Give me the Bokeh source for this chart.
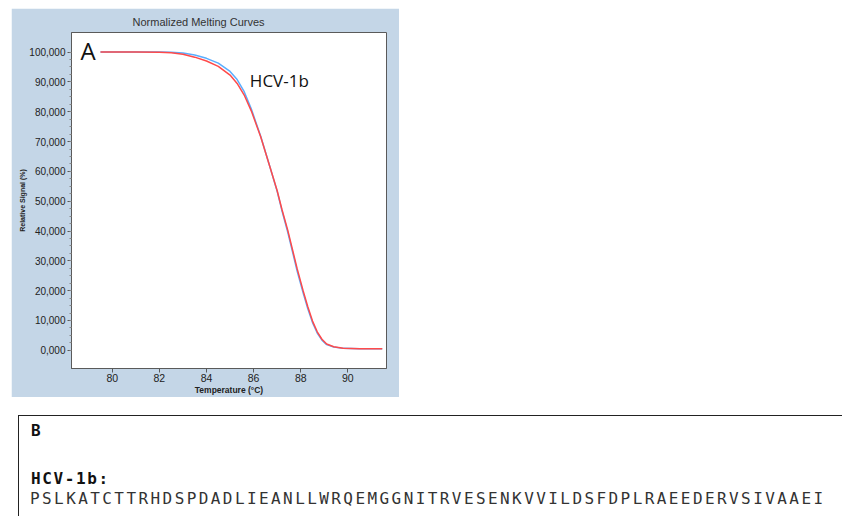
from bokeh.plotting import figure
from bokeh.models import Range1d, Label, Div, Spacer, FixedTicker
from bokeh.layouts import column, row
from bokeh.embed import file_html
from bokeh.resources import INLINE

# ---- data ----
temps = [79.5, 81.0, 82.0, 82.5, 83.0, 83.5, 84.0, 84.5, 85.0, 85.3, 85.6, 85.9,
         86.3, 86.7, 87.0, 87.2, 87.45, 87.85, 88.1, 88.3, 88.5, 88.7, 88.9,
         89.1, 89.4, 89.8, 90.5, 91.46]
red_signal = [100000, 100000, 99950, 99750, 99300, 98300, 97000, 95200, 92300,
              89500, 85600, 80300, 71600, 61300, 53500, 47300, 40200, 27300,
              20000, 14600, 9800, 6200, 3700, 2100, 1200, 700, 550, 500]
blue_signal = [100000, 100000, 100000, 99950, 99700, 99000, 97900, 96300, 93500,
               90800, 86700, 81000, 71800, 61300, 53300, 46900, 39600, 26500,
               19300, 13900, 9300, 5800, 3400, 1900, 1100, 650, 550, 500]

x_ticks = [80, 82, 84, 86, 88, 90]
y_ticks = [0, 10000, 20000, 30000, 40000, 50000, 60000, 70000, 80000, 90000, 100000]
y_tick_labels = ["0,000", "10,000", "20,000", "30,000", "40,000", "50,000",
                 "60,000", "70,000", "80,000", "90,000", "100,000"]

title_text = "Normalized Melting Curves"
panel_label = "A"
curve_label = "HCV-1b"
box_label = "B"
seq_name = "HCV-1b:"
sequence = "PSLKATCTTRHDSPDADLIEANLLWRQEMGGNITRVESENKVVILDSFDPLRAEEDERVSIVAAEI"

PANEL = "#c4d6e7"
AXC = "#5a5a5a"

p = figure(width=388, height=389, output_backend="svg", toolbar_location=None,
           x_range=Range1d(78.27, 91.64), y_range=Range1d(-6100, 106567),
           min_border_left=60, min_border_right=13, min_border_top=24,
           min_border_bottom=27)
p.border_fill_color = PANEL
p.background_fill_color = "white"
p.outline_line_color = AXC
p.outline_line_width = 1
p.grid.visible = False

p.title.text = title_text
p.title.align = "left"
p.title.offset = 61
p.title.standoff = 10
p.title.text_font = "Liberation Sans"
p.title.text_font_size = "11px"
p.title.text_font_style = "normal"
p.title.text_color = "#333333"

p.xaxis.ticker = FixedTicker(ticks=x_ticks)
p.yaxis.ticker = FixedTicker(ticks=y_ticks, minor_ticks=list(range(0, 100001, 2500)))
p.yaxis.major_label_overrides = {t: s for t, s in zip(y_ticks, y_tick_labels)}

for ax in (p.xaxis[0], p.yaxis[0]):
    ax.axis_line_color = AXC
    ax.major_tick_line_color = AXC
    ax.minor_tick_line_color = "#8a8a8a"
    ax.major_tick_in = 0
    ax.major_tick_out = 4
    ax.minor_tick_in = 0
    ax.minor_tick_out = 2
    ax.major_label_text_font = "Liberation Sans"
    ax.major_label_text_color = "#222222"
    ax.axis_label_text_font = "Liberation Sans"
    ax.axis_label_text_font_style = "bold"
    ax.axis_label_text_color = "#222222"

p.xaxis.minor_tick_line_color = None
p.xaxis.major_label_text_font_size = "10.5px"
p.yaxis.major_label_text_font_size = "10px"
p.xaxis.axis_label = "Temperature (°C)"
p.yaxis.axis_label = "Relative Signal (%)"
p.xaxis.axis_label_text_font_size = "8.5px"
p.yaxis.axis_label_text_font_size = "7px"
p.xaxis.major_label_standoff = 1
p.xaxis.axis_label_standoff = 0
p.yaxis.major_label_standoff = 2
p.yaxis.axis_label_standoff = 0

p.line(temps, blue_signal, line_color="#5aaeff", line_width=1.5)
p.line(temps, red_signal, line_color="#ff4a4a", line_width=1.5)

p.add_layout(Label(x=78.65, y=100600, text=panel_label, text_font="Open Sans",
                   text_font_size="24px", text_color="#111111",
                   text_baseline="alphabetic"))
p.add_layout(Label(x=85.84, y=90450, text=curve_label, text_font="Open Sans",
                   text_font_size="17px", text_color="#111111",
                   text_baseline="alphabetic"))

mono = ("font-family:'DejaVu Sans Mono',monospace;font-size:16px;"
        "line-height:16px;white-space:pre;")
html = (
    '<div style="position:relative;width:842px;height:119px;overflow:hidden;">'
    '<div style="position:absolute;left:13px;top:13px;width:840px;height:110px;'
    'border-left:1px solid #222;border-top:1px solid #222;"></div>'
    f'<div style="position:absolute;left:26px;top:21px;{mono}font-weight:bold;color:#111;">{box_label}</div>'
    f'<div style="position:absolute;left:26px;top:69px;{mono}font-weight:bold;letter-spacing:1.6px;color:#111;">{seq_name}</div>'
    f'<div style="position:absolute;left:25px;top:89px;{mono}letter-spacing:2.42px;color:#333;">{sequence}</div>'
    '</div>'
)
box = Div(text=html, width=842, height=119)

layout = column(Spacer(width=10, height=8),
                row(Spacer(width=11, height=389), p),
                box, spacing=0)

open("out.html", "w").write(file_html(layout, INLINE))
